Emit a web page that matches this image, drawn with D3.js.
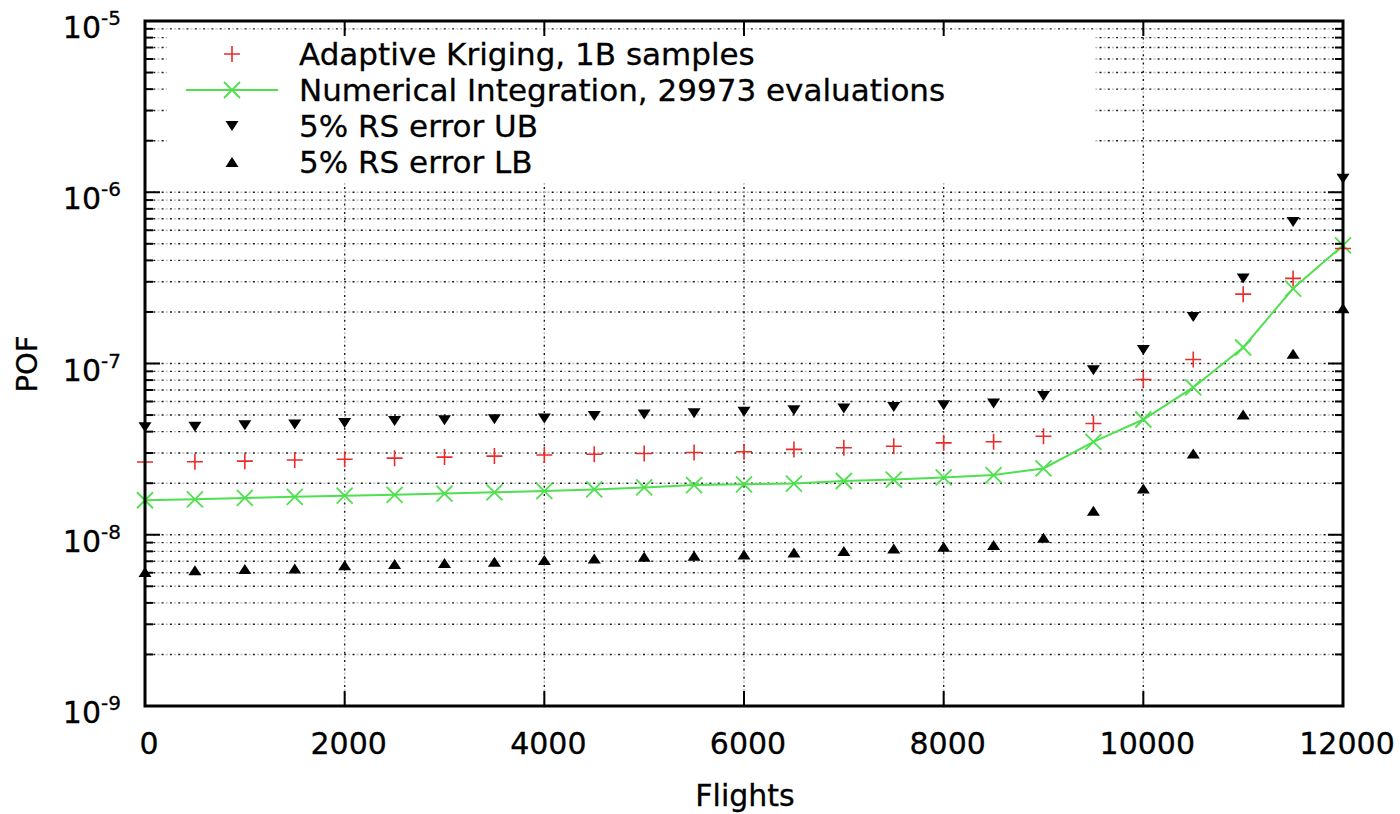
<!DOCTYPE html>
<html>
<head>
<meta charset="utf-8">
<script src="https://cdn.jsdelivr.net/npm/d3@7"></script>
<style>
  html, body { margin: 0; padding: 0; background: #fff; }
  svg { display: block; }
  text { font-family: "DejaVu Sans", sans-serif; fill: #000; stroke: #000; stroke-width: 0.3; }
</style>
</head>
<body>
<svg id="chart" width="1400" height="814"></svg>
<script>
const flights = [0, 500, 1000, 1500, 2000, 2500, 3000, 3500, 4000, 4500, 5000, 5500, 6000,
                 6500, 7000, 7500, 8000, 8500, 9000, 9500, 10000, 10500, 11000, 11500, 12000];
const kriging = [2.66e-8, 2.67e-8, 2.69e-8, 2.73e-8, 2.76e-8, 2.80e-8, 2.84e-8, 2.88e-8, 2.92e-8,
                 2.95e-8, 2.98e-8, 3.02e-8, 3.05e-8, 3.15e-8, 3.22e-8, 3.29e-8, 3.44e-8, 3.49e-8,
                 3.76e-8, 4.46e-8, 8.07e-8, 1.055e-7, 2.54e-7, 3.14e-7, 4.69e-7];
const numerical = [1.59e-8, 1.61e-8, 1.64e-8, 1.665e-8, 1.69e-8, 1.71e-8, 1.74e-8, 1.77e-8, 1.80e-8,
                   1.84e-8, 1.89e-8, 1.95e-8, 1.97e-8, 1.99e-8, 2.06e-8, 2.10e-8, 2.16e-8, 2.23e-8,
                   2.44e-8, 3.49e-8, 4.71e-8, 7.25e-8, 1.24e-7, 2.74e-7, 4.9e-7];
const rsUB = [4.25e-8, 4.27e-8, 4.36e-8, 4.41e-8, 4.50e-8, 4.61e-8, 4.67e-8, 4.73e-8, 4.78e-8,
              4.93e-8, 5.04e-8, 5.13e-8, 5.22e-8, 5.34e-8, 5.46e-8, 5.58e-8, 5.71e-8, 5.84e-8,
              6.45e-8, 9.14e-8, 1.20e-7, 1.87e-7, 3.14e-7, 6.71e-7, 1.20e-6];
const rsLB = [6.07e-9, 6.21e-9, 6.30e-9, 6.36e-9, 6.64e-9, 6.74e-9, 6.85e-9, 6.95e-9, 7.11e-9,
              7.27e-9, 7.43e-9, 7.55e-9, 7.67e-9, 7.88e-9, 8.05e-9, 8.32e-9, 8.50e-9, 8.70e-9,
              9.59e-9, 1.38e-8, 1.86e-8, 2.98e-8, 5.04e-8, 1.14e-7, 2.10e-7];
const xTicks = [0, 2000, 4000, 6000, 8000, 10000, 12000];
const yExponents = [-9, -8, -7, -6, -5];
const legendLabels = ["Adaptive Kriging, 1B samples", "Numerical Integration, 29973 evaluations",
                      "5% RS error UB", "5% RS error LB"];

const L = 145, R = 1343, T = 21, B = 706;
const svg = d3.select("#chart");
const x = d3.scaleLinear().domain([0, 12000]).range([L, R]);
const y = d3.scaleLog().domain([1e-9, 1e-5]).range([B, T]);

const RED = "#ec2b2b", GREEN = "#4fe04f";

const yAll = [];
yExponents.forEach((e, i) => {
  yAll.push({v: Math.pow(10, e), major: true});
  if (i < yExponents.length - 1) for (let m = 2; m <= 9; m++) yAll.push({v: m * Math.pow(10, e), major: false});
});

// grid (dark dots with lighter dots between)
const grid = svg.append("g");
[["#1a1a1a", 0], ["#b8b8b8", 4.15]].forEach(([col, off]) => {
  grid.append("g").selectAll("line").data(yAll).enter().append("line")
    .attr("x1", L).attr("x2", R).attr("y1", d => y(d.v)).attr("y2", d => y(d.v))
    .attr("stroke", col).attr("stroke-width", 1.4).attr("stroke-dasharray", "2,6.3")
    .attr("stroke-dashoffset", -off);
  grid.append("g").selectAll("line").data(xTicks.slice(1, -1)).enter().append("line")
    .attr("x1", d => x(d)).attr("x2", d => x(d)).attr("y1", T).attr("y2", B)
    .attr("stroke", col).attr("stroke-width", 1.4).attr("stroke-dasharray", "2,6.3")
    .attr("stroke-dashoffset", -off);
});

// opaque legend box
svg.append("rect").attr("x", 167).attr("y", 32).attr("width", 1095 - 167).attr("height", 183 - 32)
  .attr("fill", "#fff");

// numerical line
const line = d3.line().x((d, i) => x(flights[i])).y(d => y(d));
svg.append("path").datum(numerical).attr("d", line)
  .attr("fill", "none").attr("stroke", GREEN).attr("stroke-width", 2);

function plus(g, cx, cy, s) {
  g.append("path").attr("d", `M${cx - s},${cy}H${cx + s}M${cx},${cy - s}V${cy + s}`)
    .attr("stroke", RED).attr("stroke-width", 1.6).attr("fill", "none");
}
function cross(g, cx, cy, s) {
  g.append("path").attr("d", `M${cx - s},${cy - s}L${cx + s},${cy + s}M${cx - s},${cy + s}L${cx + s},${cy - s}`)
    .attr("stroke", GREEN).attr("stroke-width", 1.8).attr("fill", "none");
}
function tri(g, cx, cy, down) {
  const w = 6.5, h = 10;
  const d = down
    ? `M${cx - w},${cy - h / 2}L${cx + w},${cy - h / 2}L${cx},${cy + h / 2}Z`
    : `M${cx - w},${cy + h / 2}L${cx + w},${cy + h / 2}L${cx},${cy - h / 2}Z`;
  g.append("path").attr("d", d).attr("fill", "#000");
}

const marks = svg.append("g");
numerical.forEach((v, i) => cross(marks, x(flights[i]), y(v), 8));
kriging.forEach((v, i) => plus(marks, x(flights[i]), y(v), 8));
rsUB.forEach((v, i) => tri(marks, x(flights[i]), y(v), true));
rsLB.forEach((v, i) => tri(marks, x(flights[i]), y(v), false));

// ticks
const ticks = svg.append("g").attr("stroke", "#000").attr("stroke-width", 2);
yAll.forEach(d => {
  const len = d.major ? 15 : 8;
  ticks.append("line").attr("x1", L).attr("x2", L + len).attr("y1", y(d.v)).attr("y2", y(d.v));
  ticks.append("line").attr("x1", R).attr("x2", R - len).attr("y1", y(d.v)).attr("y2", y(d.v));
});
xTicks.forEach(d => {
  ticks.append("line").attr("x1", x(d)).attr("x2", x(d)).attr("y1", B).attr("y2", B - 15);
  ticks.append("line").attr("x1", x(d)).attr("x2", x(d)).attr("y1", T).attr("y2", T + 15);
});

// border
svg.append("rect").attr("x", L).attr("y", T).attr("width", R - L).attr("height", B - T)
  .attr("fill", "none").attr("stroke", "#000").attr("stroke-width", 3);

// y tick labels
yExponents.forEach(e => {
  const ty = y(Math.pow(10, e));
  const t = svg.append("text").attr("x", 121).attr("y", ty + 17).attr("text-anchor", "end")
    .attr("font-size", 30);
  t.append("tspan").text("10");
  t.append("tspan").attr("dy", -13).attr("font-size", 20).text(String(e));
});

// x tick labels
svg.selectAll("text.xt").data(xTicks).enter().append("text")
  .attr("x", d => x(d) + 4).attr("y", 754).attr("text-anchor", "middle").attr("font-size", 30)
  .text(d => d);

// axis titles
svg.append("text").attr("x", 745).attr("y", 806).attr("text-anchor", "middle").attr("font-size", 30)
  .text("Flights");
svg.append("text").attr("transform", "translate(37,364) rotate(-90)").attr("text-anchor", "middle")
  .attr("font-size", 29).text("POF");

// legend
const lg = svg.append("g");
const rows = [65, 101, 137, 173];
const sx = 232;
plus(lg, sx, rows[0] - 11, 8);
lg.append("line").attr("x1", 186).attr("x2", 278).attr("y1", rows[1] - 11).attr("y2", rows[1] - 11)
  .attr("stroke", GREEN).attr("stroke-width", 2);
cross(lg, sx, rows[1] - 11, 8);
tri(lg, sx, rows[2] - 11, true);
tri(lg, sx, rows[3] - 11, false);
legendLabels.forEach((s, i) => {
  lg.append("text").attr("x", 299).attr("y", rows[i]).attr("font-size", 31).text(s);
});
</script>
</body>
</html>
